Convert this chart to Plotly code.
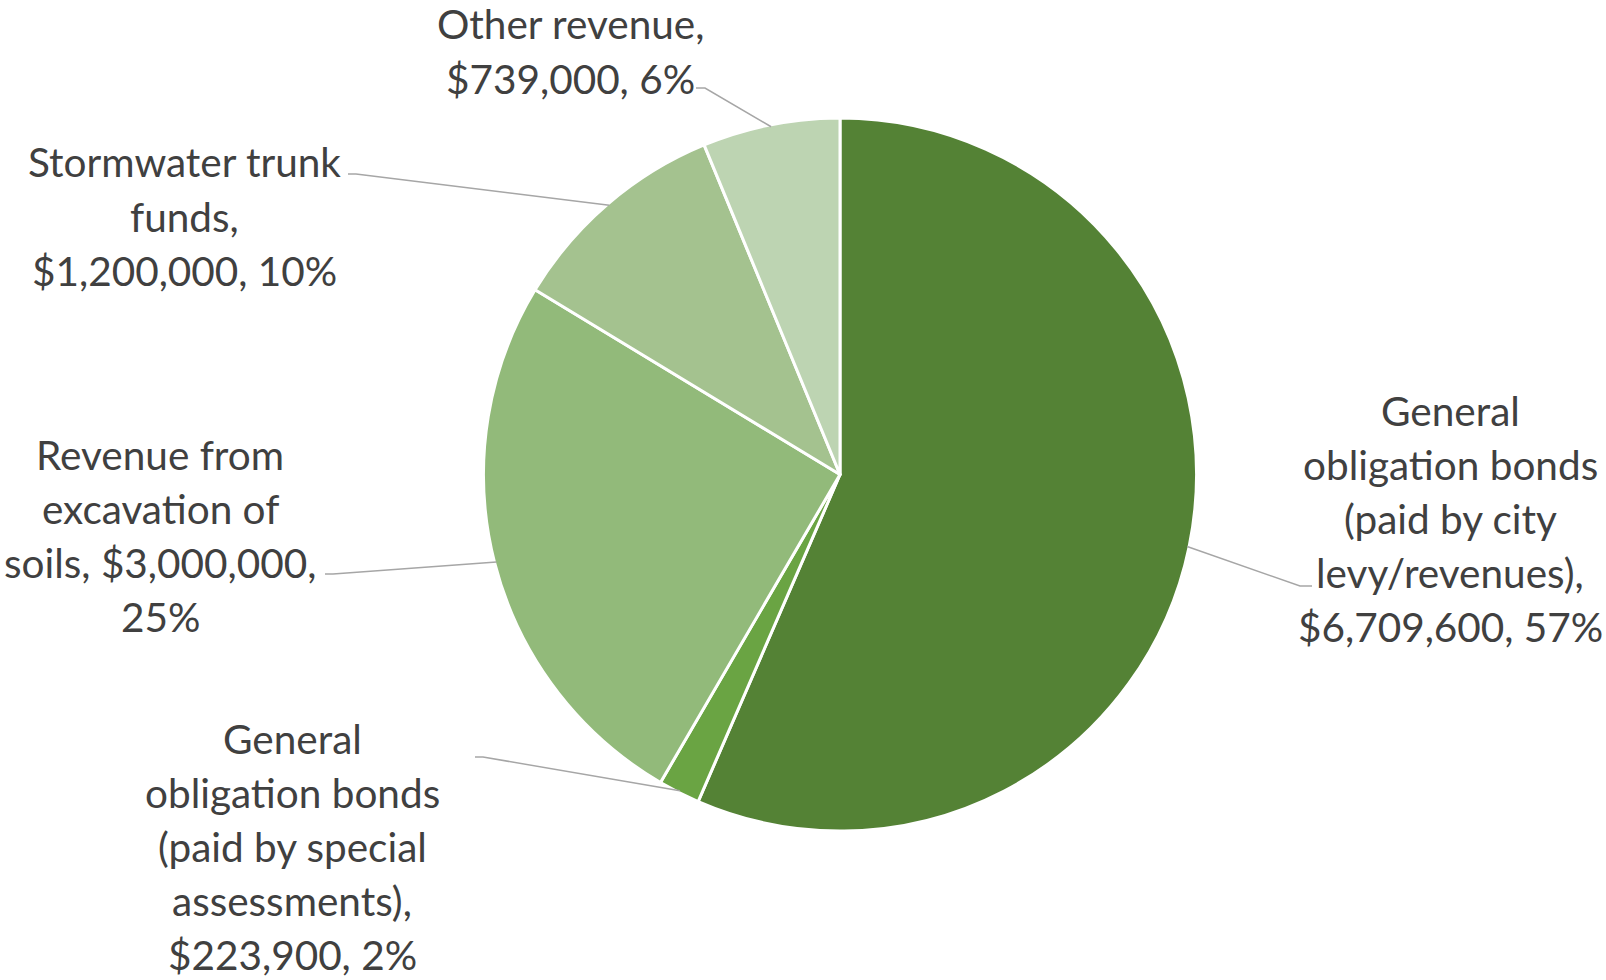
import math
import plotly.graph_objects as go

W, H = 1606, 980

# ---- data ----
categories = [
    "General obligation bonds (paid by city levy/revenues)",
    "General obligation bonds (paid by special assessments)",
    "Revenue from excavation of soils",
    "Stormwater trunk funds",
    "Other revenue",
]
amounts = [6709600, 223900, 3000000, 1200000, 739000]

# ---- styling ----
colors = ["#548235", "#6AA443", "#92BA7A", "#A4C28F", "#BDD4B2"]
text_color = "#404040"
leader_color = "#A6A6A6"
font_family = "Lato"
font_size = 40.5
line_step = 54.2

# wrapped data-label lines; {v} and {p} are filled in from the amounts
label_templates = [
    ["General", "obligation bonds", "(paid by city", "levy/revenues),", "{v}, {p}"],
    ["General", "obligation bonds", "(paid by special", "assessments),", "{v}, {p}"],
    ["Revenue from", "excavation of", "soils, {v},", "{p}"],
    ["Stormwater trunk", "funds,", "{v}, {p}"],
    ["Other revenue,", "{v}, {p}"],
]
# label block centre x and first-line y (pixels)
label_pos = [(1450, 410), (292, 738), (160, 454), (184, 162), (570, 24)]
# leader line elbow and end points (pixels)
leader_pts = [
    ((1300, 586), (1312, 586)),
    ((483, 757), (475, 757)),
    ((333, 574), (325, 574)),
    ((356, 174), (348, 174)),
    ((705, 88), (696, 88)),
]

# pie geometry in pixels
CX, CY, R = 840.0, 474.5, 356.5


def px(x):
    return x / W


def py(y):
    return 1 - y / H


total = sum(amounts)

fig = go.Figure(
    go.Pie(
        labels=categories,
        values=amounts,
        sort=False,
        direction="clockwise",
        rotation=0,
        marker=dict(colors=colors, line=dict(color="white", width=3)),
        textinfo="none",
        hoverinfo="label+value+percent",
        showlegend=False,
        domain=dict(
            x=[px(CX - R), px(CX + R)],
            y=[py(CY + R), py(CY - R)],
        ),
    )
)

annotations = []
shapes = []
cum = 0.0
for i, v in enumerate(amounts):
    pct = f"{round(v / total * 100)}%"
    val = f"${v:,}"
    # data-label lines
    cx, y0 = label_pos[i]
    for k, tmpl in enumerate(label_templates[i]):
        annotations.append(
            dict(
                text=tmpl.format(v=val, p=pct),
                x=px(cx),
                y=py(y0 + k * line_step),
                xref="paper",
                yref="paper",
                xanchor="center",
                yanchor="middle",
                showarrow=False,
                borderpad=0,
                font=dict(family=font_family, size=font_size, color=text_color),
            )
        )
    # leader line from the slice's mid-arc to its label
    theta = 2 * math.pi * (cum + v / 2) / total
    ex = CX + (R - 2) * math.sin(theta)
    ey = CY - (R - 2) * math.cos(theta)
    (bx, by), (tx, ty) = leader_pts[i]
    path = f"M {px(ex)},{py(ey)} L {px(bx)},{py(by)} L {px(tx)},{py(ty)}"
    shapes.append(
        dict(
            type="path",
            path=path,
            xref="paper",
            yref="paper",
            line=dict(color=leader_color, width=1.5),
        )
    )
    cum += v

fig.update_layout(
    width=W,
    height=H,
    margin=dict(l=0, r=0, t=0, b=0),
    paper_bgcolor="white",
    plot_bgcolor="white",
    annotations=annotations,
    shapes=shapes,
)

fig.write_html("out.html")
